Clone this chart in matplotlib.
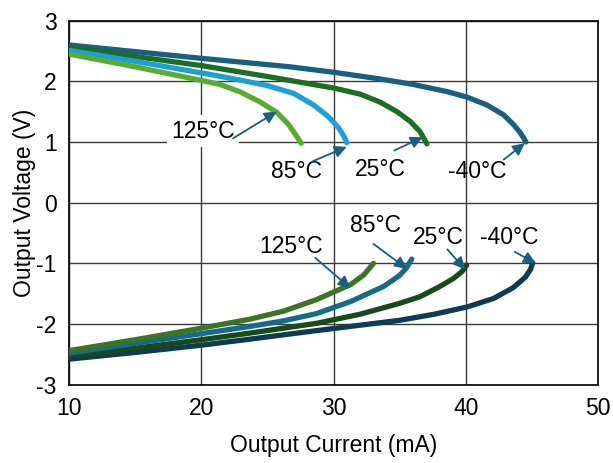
import matplotlib
matplotlib.use("Agg")
import matplotlib.pyplot as plt

plt.rcParams['font.family'] = ['Liberation Sans', 'DejaVu Sans']
plt.rcParams['axes.unicode_minus'] = False

# Positive output (sourcing) curves: current (mA) vs voltage (V)
pos_m40_i = [10, 15, 20, 26.7, 30, 33.5, 36.0, 38.6, 40.1, 41.6, 42.85, 43.6, 44.1, 44.4, 44.55]
pos_m40_v = [2.60, 2.49, 2.38, 2.24, 2.15, 2.04, 1.95, 1.83, 1.74, 1.61, 1.45, 1.29, 1.16, 1.06, 1.00]
pos_25_i = [10, 15, 20, 25, 30, 32, 33.5, 34.8, 35.8, 36.55, 37.06]
pos_25_v = [2.56, 2.41, 2.26, 2.08, 1.89, 1.79, 1.66, 1.50, 1.34, 1.17, 0.97]
pos_85_i = [10, 15, 20, 22.5, 25.0, 27.0, 28.5, 29.6, 30.4, 30.8, 31.0]
pos_85_v = [2.51, 2.33, 2.14, 2.04, 1.93, 1.80, 1.61, 1.42, 1.23, 1.09, 0.99]
pos_125_i = [10, 15, 19.9, 21.4, 22.9, 24.45, 25.7, 26.6, 27.2, 27.55]
pos_125_v = [2.45, 2.24, 2.02, 1.95, 1.83, 1.66, 1.49, 1.29, 1.10, 0.98]

# Negative output (sinking) curves
neg_m40_i = [10, 15, 20, 23.7, 28.7, 35.0, 37.6, 40.1, 42.1, 43.6, 44.5, 44.9, 45.07]
neg_m40_v = [-2.58, -2.47, -2.35, -2.25, -2.11, -1.94, -1.84, -1.72, -1.58, -1.40, -1.23, -1.10, -0.99]
neg_25_i = [10, 15, 20, 23.7, 28.7, 32, 35.0, 36.55, 38.06, 39.07, 39.7, 40.07]
neg_25_v = [-2.53, -2.40, -2.26, -2.15, -1.99, -1.84, -1.66, -1.55, -1.38, -1.25, -1.14, -1.03]
neg_85_i = [10, 15, 20, 23.7, 26.2, 28.7, 31.3, 33.8, 35.0, 35.5, 35.92]
neg_85_v = [-2.48, -2.32, -2.16, -2.04, -1.95, -1.83, -1.63, -1.38, -1.20, -1.08, -0.93]
neg_125_i = [10, 15, 20, 23.7, 26.2, 28.7, 31.3, 32.3, 33.02]
neg_125_v = [-2.44, -2.26, -2.07, -1.92, -1.79, -1.60, -1.35, -1.19, -1.00]

x_ticks = [10, 20, 30, 40, 50]
y_ticks = [-3, -2, -1, 0, 1, 2, 3]

fig = plt.figure(figsize=(6.13, 4.63), dpi=100)
ax = fig.add_axes([0.1126, 0.1693, 0.8629, 0.786])

lw = 3.8
series = [
    (pos_m40_i, pos_m40_v, '#185f80'),
    (pos_25_i, pos_25_v, '#1c6e22'),
    (pos_85_i, pos_85_v, '#1ca0da'),
    (pos_125_i, pos_125_v, '#56ad30'),
    (neg_m40_i, neg_m40_v, '#0f3b52'),
    (neg_25_i, neg_25_v, '#164a18'),
    (neg_85_i, neg_85_v, '#166a8c'),
    (neg_125_i, neg_125_v, '#3b7423'),
]
for xs, ys, c in series:
    ax.plot(xs, ys, color=c, lw=lw, solid_capstyle='round', solid_joinstyle='round', zorder=3)

fs = 16.5
ax.set_xlim(10, 50)
ax.set_ylim(-3, 3)
ax.set_xticks(x_ticks)
ax.set_yticks(y_ticks)
ax.tick_params(length=0, labelsize=fs, pad=9)
ax.grid(True, color='#3a3a3a', lw=1.0, zorder=0)
for s in ax.spines.values():
    s.set_linewidth(1.2)
    s.set_color('black')

ax.set_xlabel('Output Current (mA)', fontsize=fs, labelpad=10)
ax.set_ylabel('Output Voltage (V)', fontsize=fs, labelpad=0)

arrow_c = '#185f80'
labels = [
    ('125°C', (20.1, 1.18), (22.4, 1.06), (25.7, 1.50), True),
    ('85°C', (27.2, 0.51), (28.4, 0.68), (31.0, 0.92), False),
    ('25°C', (33.55, 0.54), (34.6, 0.86), (36.75, 1.08), False),
    ('-40°C', (40.87, 0.51), (42.87, 0.71), (44.47, 0.98), False),
    ('125°C', (26.76, -0.72), (28.62, -0.91), (31.28, -1.41), False),
    ('85°C', (33.15, -0.37), (33.02, -0.68), (35.55, -1.09), False),
    ('25°C', (37.95, -0.58), (38.61, -0.77), (39.95, -1.10), False),
    ('-40°C', (43.3, -0.58), (43.7, -0.81), (45.3, -1.0), False),
]
for txt, tpos, tail, head, boxed in labels:
    kw = {}
    if boxed:
        kw['bbox'] = dict(facecolor='white', edgecolor='none', pad=3)
    ax.text(tpos[0], tpos[1], txt, fontsize=fs, ha='center', va='center', zorder=4, **kw)
    ax.annotate('', xy=head, xytext=tail,
                arrowprops=dict(arrowstyle='-|>', color=arrow_c, lw=1.3,
                                mutation_scale=18, shrinkA=0, shrinkB=0),
                zorder=5)

fig.savefig('out.png', dpi=100)
